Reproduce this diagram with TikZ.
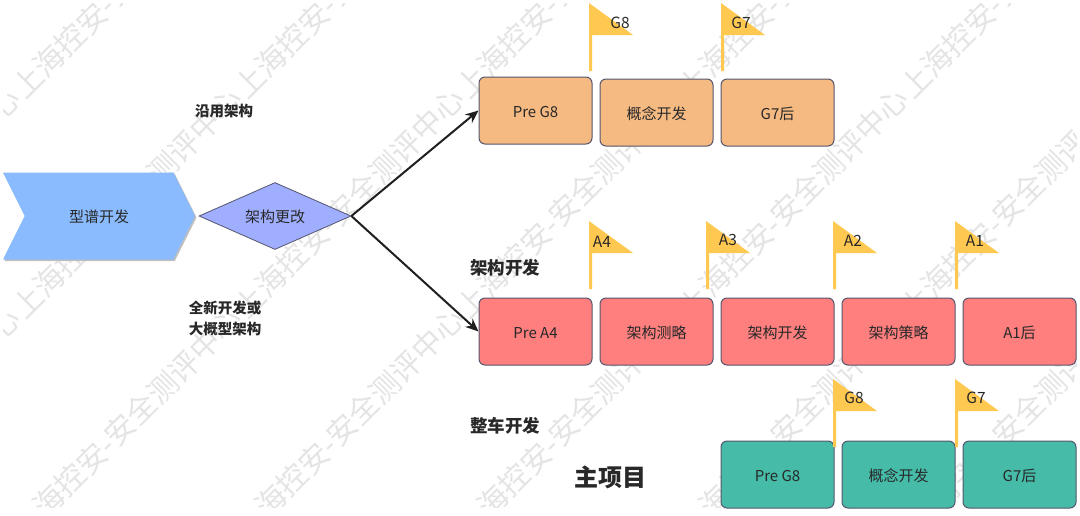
\documentclass[tikz,border=0pt]{standalone}
\usepackage{fontspec}
\setmainfont{Noto Sans CJK SC}
\usetikzlibrary{positioning,shapes.geometric,shapes.symbols,arrows.meta}
\definecolor{FlagYellow}{RGB}{255,200,80}
\definecolor{BoxEdge}{RGB}{85,85,110}
\definecolor{TextGray}{RGB}{40,40,40}
\definecolor{MarkGray}{RGB}{228,228,228}
\definecolor{ChevBlue}{RGB}{138,187,255}
\definecolor{DiaBlue}{RGB}{160,174,255}
\definecolor{PhaseOrange}{RGB}{245,186,130}
\definecolor{PhaseRed}{RGB}{255,127,127}
\definecolor{PhaseTeal}{RGB}{69,187,168}
\newcommand{\flagmark}[2]{%
  \fill[FlagYellow] (#1,#2) -- (#1+44,#2+32) -- (#1+3,#2+32) -- (#1+3,#2+68) -- (#1,#2+68) -- cycle;
}
\begin{document}
\begin{tikzpicture}[
    x=1pt,y=-1pt,
    font=\fontsize{15}{18}\selectfont,
    text=TextGray,
    midtext/.style={text height=14pt,text depth=1pt},
    phase/.style={rectangle,rounded corners=6pt,draw=BoxEdge,line width=1pt,minimum width=113pt,minimum height=67pt,inner sep=0pt,midtext},
    chevron/.style={signal,signal to=east,signal from=west,signal pointer angle=127,minimum width=192pt,minimum height=87pt,inner sep=0pt},
    flagtext/.style={inner sep=0pt,font=\fontsize{15.5}{18}\selectfont},
    note/.style={font=\fontsize{14.5}{21}\selectfont\bfseries,align=center,inner sep=0pt},
    heading/.style={font=\fontsize{17.5}{20}\selectfont\bfseries,inner sep=0pt},
    stamp/.style={rotate=45,inner sep=0pt,text=MarkGray,font=\fontsize{30}{32}\selectfont},
    arrow/.style={line width=2pt,draw=black!88,-{Stealth[length=13pt,width=11pt]}}
]
\useasboundingbox (0,0) rectangle (1080,515);

% watermark
\begin{scope}
\clip (3,3) rectangle (1076,507);
\foreach \i in {0,...,6}
  \foreach \j in {0,...,3}
    \node[stamp] (stamp\i\j) at (-95+222*\i,-17+220*\j) {上海控安-安全测评中心};
\end{scope}

% left side
\node[chevron,fill=black!25] (shadow) at (100.5,217.5) {};
\node[chevron,fill=ChevBlue,midtext] (platform) at (99,216) {型谱开发};
\node[diamond,draw=BoxEdge,fill=DiaBlue,line width=0.8pt,aspect=2.27,minimum width=152pt,minimum height=67pt,inner sep=0pt,midtext] (change) at (275,216) {架构更改};

% top row
\node[phase,fill=PhaseOrange] (topa) at (535.5,110.5) {Pre G8};
\node[phase,fill=PhaseOrange] (topb) at (656.5,112.5) {概念开发};
\node[phase,fill=PhaseOrange] (topc) at (777.5,112.5) {G7后};

% middle row
\node[phase,fill=PhaseRed] (mida) at (535.5,331.5) {Pre A4};
\node[phase,fill=PhaseRed] (midb) at (656.5,331.5) {架构测略};
\node[phase,fill=PhaseRed] (midc) at (777.5,331.5) {架构开发};
\node[phase,fill=PhaseRed] (midd) at (898.5,331.5) {架构策略};
\node[phase,fill=PhaseRed] (mide) at (1019.5,331.5) {A1后};

% bottom row
\node[phase,fill=PhaseTeal] (lowa) at (777.5,474.5) {Pre G8};
\node[phase,fill=PhaseTeal] (lowb) at (898.5,474.5) {概念开发};
\node[phase,fill=PhaseTeal] (lowc) at (1019.5,474.5) {G7后};

\draw[arrow] (change.east) -- (topa.west);
\draw[arrow] (change.east) -- (mida.west);

% flags
\flagmark{589}{3}
\flagmark{721}{3}
\flagmark{589}{221}
\flagmark{706}{221}
\flagmark{833}{221}
\flagmark{955}{221}
\flagmark{833}{379}
\flagmark{955}{379}

\node[flagtext] (flagga) at (620,23) {G8};
\node[flagtext] (flaggb) at (741,23) {G7};
\node[flagtext] (flagaa) at (602,242) {A4};
\node[flagtext] (flagab) at (728,240) {A3};
\node[flagtext] (flagac) at (853,241) {A2};
\node[flagtext] (flagad) at (975,241) {A1};
\node[flagtext] (flaglg) at (854,398) {G8};
\node[flagtext] (flaglf) at (976,398) {G7};

% labels
\node[note] (reuse) at (224,111) {沿用架构};
\node[note] (fresh) at (225,318.5) {全新开发或\\大概型架构};
\node[heading] (archdev) at (505,268) {架构开发};
\node[heading] (cardev) at (505,426) {整车开发};
\node[font=\fontsize{24}{28}\selectfont\bfseries,inner sep=0pt] (mainproj) at (610,477) {主项目};
\end{tikzpicture}
\end{document}
